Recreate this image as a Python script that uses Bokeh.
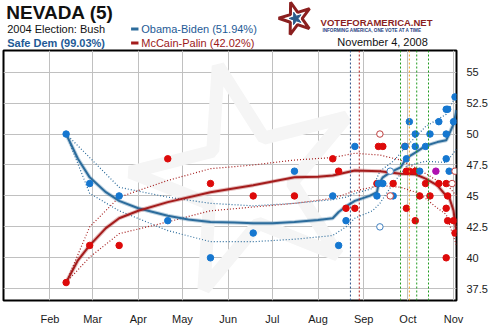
import pandas as pd
from bokeh.plotting import figure
from bokeh.models import Range1d, FixedTicker, Span, Label, DatetimeTickFormatter
from bokeh.layouts import column
from bokeh.embed import file_html
from bokeh.resources import INLINE

FONT = "Liberation Sans"

# ---------------- data ----------------
month_ticks = ["2008-02-01", "2008-03-01", "2008-04-01", "2008-05-01", "2008-06-01",
               "2008-07-01", "2008-08-01", "2008-09-01", "2008-10-01", "2008-11-01"]
month_labels = ["Feb", "Mar", "Apr", "May", "Jun", "Jul", "Aug", "Sep", "Oct", "Nov"]
y_ticks = [37.5, 40, 42.5, 45, 47.5, 50, 52.5, 55]
y_tick_labels = ["37.5", "40", "42.5", "45", "47.5", "50", "52.5", "55"]

obama_poll_dates = ["2008-02-12", "2008-02-28", "2008-03-19", "2008-04-21", "2008-05-20",
                    "2008-06-18", "2008-07-16", "2008-08-11", "2008-08-15", "2008-08-20",
                    "2008-08-26", "2008-09-10", "2008-09-11", "2008-09-14", "2008-09-21",
                    "2008-09-29", "2008-09-30", "2008-10-02", "2008-10-06", "2008-10-06",
                    "2008-10-09", "2008-10-13", "2008-10-16", "2008-10-22", "2008-10-27",
                    "2008-10-28", "2008-10-27", "2008-10-27", "2008-10-29", "2008-11-01",
                    "2008-11-02"]
obama_poll_vals = [50, 46, 45, 43, 40, 42, 47, 45, 41, 43, 49, 45, 46, 46, 45, 49, 48, 51,
                   50, 49, 47, 49, 50, 51, 52, 52, 50, 48, 47, 51, 53]

mccain_poll_dates = ["2008-02-12", "2008-02-28", "2008-03-19", "2008-04-21", "2008-05-20",
                     "2008-06-18", "2008-07-16", "2008-08-11", "2008-08-15", "2008-08-20",
                     "2008-08-26", "2008-09-10", "2008-09-11", "2008-09-14", "2008-09-21",
                     "2008-09-29", "2008-09-30", "2008-09-30", "2008-10-02", "2008-10-06",
                     "2008-10-06", "2008-10-09", "2008-10-13", "2008-10-16", "2008-10-22",
                     "2008-10-27", "2008-10-27", "2008-10-27", "2008-10-28", "2008-10-28",
                     "2008-11-01", "2008-11-02"]
mccain_poll_vals = [38, 41, 41, 48, 46, 45, 45, 48, 47, 44, 44, 46, 49, 49, 46, 49, 47, 44,
                    47, 47, 43, 45, 46, 45, 46, 46, 44, 40, 45, 43, 43, 42]

tie_poll_dates = ["2008-10-20"]
tie_poll_vals = [47]

obama_open_dates = ["2008-09-12", "2008-09-19"]
obama_open_vals = [42.5, 47]
mccain_open_dates = ["2008-09-12", "2008-09-19", "2008-10-31", "2008-11-02"]
mccain_open_vals = [50, 45, 46, 47]

obama_trend_dates = ["2008-02-12", "2008-02-20", "2008-02-28", "2008-03-10", "2008-03-19",
                     "2008-04-01", "2008-04-21", "2008-05-05", "2008-05-20", "2008-06-05",
                     "2008-06-18", "2008-07-01", "2008-07-16", "2008-08-01", "2008-08-11",
                     "2008-08-15", "2008-08-20", "2008-08-26", "2008-09-05", "2008-09-10",
                     "2008-09-11", "2008-09-14", "2008-09-19", "2008-09-26", "2008-09-30",
                     "2008-10-06", "2008-10-13", "2008-10-21", "2008-10-27", "2008-10-29",
                     "2008-11-01", "2008-11-03"]
obama_trend_vals = [50.0, 48.0, 46.5, 45.3, 44.6, 44.0, 43.4, 43.1, 42.9, 42.85, 42.8,
                    42.8, 42.9, 43.05, 43.2, 43.7, 44.15, 44.6, 45.0, 45.3, 45.9, 46.5,
                    46.9, 47.3, 48.05, 48.5, 49.05, 49.35, 49.5, 50.0, 50.8, 51.94]

mccain_trend_dates = ["2008-02-12", "2008-02-20", "2008-02-28", "2008-03-10", "2008-03-19",
                      "2008-04-01", "2008-04-21", "2008-05-20", "2008-06-18", "2008-07-16",
                      "2008-08-01", "2008-08-11", "2008-08-20", "2008-08-26", "2008-09-12",
                      "2008-09-26", "2008-10-06", "2008-10-13", "2008-10-21", "2008-10-27",
                      "2008-10-29", "2008-11-01", "2008-11-03"]
mccain_trend_vals = [38.0, 39.8, 41.0, 42.4, 43.2, 43.8, 44.5, 45.3, 45.87, 46.5, 46.55,
                     46.65, 46.9, 47.06, 47.0, 46.8, 46.75, 46.4, 45.85, 45.0, 44.9, 43.8,
                     42.02]

obama_band_dates = ["2008-02-12", "2008-02-28", "2008-03-19", "2008-04-21", "2008-05-20",
                    "2008-06-18", "2008-07-16", "2008-08-11", "2008-08-20", "2008-08-26",
                    "2008-09-07", "2008-09-12", "2008-09-21", "2008-09-30", "2008-10-13",
                    "2008-10-27", "2008-11-03"]
obama_upper_vals = [50.0, 48.1, 45.7, 44.9, 44.4, 44.2, 44.4, 44.7, 44.9, 45.2, 45.6, 47.0,
                    47.8, 49.0, 50.6, 51.6, 53.2]
obama_lower_vals = [50.0, 45.2, 43.8, 42.2, 41.3, 41.3, 41.5, 41.8, 42.5, 43.2, 43.8, 44.4,
                    46.0, 47.4, 47.8, 47.7, 48.8]

mccain_band_dates = ["2008-02-12", "2008-02-28", "2008-03-19", "2008-04-21", "2008-05-20",
                     "2008-06-18", "2008-07-16", "2008-08-11", "2008-08-26", "2008-09-12",
                     "2008-09-26", "2008-10-09", "2008-10-20", "2008-10-27", "2008-11-03"]
mccain_upper_vals = [38.0, 42.5, 44.9, 46.25, 47.2, 47.5, 47.9, 48.1, 48.45, 48.3, 47.9,
                     47.1, 46.3, 46.0, 45.0]
mccain_lower_vals = [38.0, 40.05, 41.95, 42.9, 43.8, 44.1, 44.4, 44.8, 45.4, 45.85, 45.7,
                     45.2, 44.1, 43.5, 41.0]

event_dates = ["2008-08-23", "2008-08-29", "2008-09-26", "2008-10-02", "2008-10-07", "2008-10-15"]
event_colors = ["#2a4f86", "#b01a1a", "#1f9a1f", "#f0a020", "#1f9a1f", "#1f9a1f"]

BLUE_PT = "#1577d0"
RED_PT = "#dd0a0a"
BLUE_LN = "#2c6c9c"
RED_LN = "#a41c1c"


def ms(dates):
    return [float(v) for v in (pd.to_datetime(dates).astype("int64") // 10**6)]


def dt(dates):
    return pd.to_datetime(dates)


# ---------------- header (pixel coordinates, y downward) ----------------
HDR_H = 49
hdr = figure(width=490, height=HDR_H, x_range=Range1d(0, 490), y_range=Range1d(HDR_H, 0),
             toolbar_location=None, output_backend="svg", min_border=0,
             x_axis_location=None, y_axis_location=None)
hdr.grid.visible = False
hdr.outline_line_color = None
hdr.background_fill_color = "white"
hdr.border_fill_color = "white"


def hlabel(x, baseline_y, text, size=11, color="#111111", bold=False, align="left"):
    # rendered text sits ~0.35em lower than the requested alphabetic baseline; compensate
    hdr.add_layout(Label(x=x, y=baseline_y - 0.36 * size, text=text, text_font=FONT,
                         text_font_size=f"{size}px",
                         text_font_style="bold" if bold else "normal", text_color=color,
                         text_align=align, text_baseline="alphabetic"))


hlabel(3, 18.5, "NEVADA (5)", size=19, bold=True)
hlabel(4, 32, "2004 Election: Bush")
hlabel(4, 46, "Safe Dem (99.03%)", bold=True, color="#1e5a96")
hdr.segment(x0=[138, 138], y0=[28.5, 42.5], x1=[146, 146], y1=[28.5, 42.5],
            line_color=[BLUE_LN, RED_LN], line_width=3)
hlabel(149, 32, "Obama-Biden (51.94%)", color="#1e5a96")
hlabel(149, 46, "McCain-Palin (42.02%)", color="#9c1a1a")
hlabel(459, 45, "November 4, 2008", align="right")
hdr.scatter(x=[316], y=[18], marker="star", size=34, fill_color="white",
            line_color="#8b1f1f", line_width=3, angle=0.3)
hdr.scatter(x=[316], y=[18], marker="star", size=13, fill_color="#2a5a8a",
            line_color="#2a5a8a", angle=0.3)
hlabel(343, 25, "VOTEFORAMERICA.NET", size=9.5, bold=True, color="#8b1f1f")
hlabel(345, 31.5, "INFORMING AMERICA, ONE VOTE AT A TIME", size=4.6, bold=True,
       color="#1f3f7f")

# ---------------- main chart ----------------
p = figure(width=490, height=330 - HDR_H, x_axis_type="datetime", y_axis_location="right",
           toolbar_location=None, output_backend="svg",
           x_range=Range1d(pd.Timestamp("2007-12-31 12:00"), pd.Timestamp("2008-11-03 00:00")),
           y_range=Range1d(36.55, 56.75),
           min_border_left=3, min_border_right=29, min_border_top=1, min_border_bottom=30)
p.background_fill_color = "white"
p.border_fill_color = "white"
p.outline_line_color = "black"
p.outline_line_width = 2

xt = ms(month_ticks)
p.xaxis.ticker = FixedTicker(ticks=xt)
p.xaxis.formatter = DatetimeTickFormatter(months="%b", days="%b", years="%b")
p.xaxis.major_label_overrides = {t: l for t, l in zip(xt, month_labels)}
p.yaxis.ticker = FixedTicker(ticks=y_ticks)
p.yaxis.major_label_overrides = {t: l for t, l in zip(y_ticks, y_tick_labels)}
for ax in (p.xaxis, p.yaxis):
    ax.axis_line_color = None
    ax.major_tick_line_color = None
    ax.minor_tick_line_color = None
    ax.major_label_text_font = FONT
    ax.major_label_text_font_size = "11px"
    ax.major_label_text_color = "#1a1a1a"
p.xaxis.major_label_standoff = 6
p.yaxis.major_label_standoff = 4
p.grid.grid_line_color = "#c0c0c0"
p.grid.grid_line_width = 1

# faint watermark star
p.scatter(x=[pd.Timestamp("2008-06-14")], y=[46.3], marker="star", size=235,
          fill_color=None, line_color="#f5f5f5", line_width=13, angle=0.25)

# event lines
for d, c in zip(ms(event_dates), event_colors):
    p.add_layout(Span(location=d, dimension="height", line_color=c, line_width=1,
                      line_dash="2 2"))

# confidence bands
for dts, vals, col in ((obama_band_dates, obama_upper_vals, BLUE_LN),
                       (obama_band_dates, obama_lower_vals, BLUE_LN),
                       (mccain_band_dates, mccain_upper_vals, RED_LN),
                       (mccain_band_dates, mccain_lower_vals, RED_LN)):
    p.line(dt(dts), vals, line_color=col, line_width=1.2, line_dash="1 2")

# trend lines
p.line(dt(obama_trend_dates), obama_trend_vals, line_color=BLUE_LN, line_width=4,
       line_alpha=0.3)
p.line(dt(obama_trend_dates), obama_trend_vals, line_color=BLUE_LN, line_width=2)
p.line(dt(mccain_trend_dates), mccain_trend_vals, line_color=RED_LN, line_width=4,
       line_alpha=0.3)
p.line(dt(mccain_trend_dates), mccain_trend_vals, line_color=RED_LN, line_width=2)

# polls
p.scatter(dt(mccain_poll_dates), mccain_poll_vals, size=6.5, fill_color=RED_PT,
          line_color=RED_PT)
p.scatter(dt(obama_poll_dates), obama_poll_vals, size=6.5, fill_color=BLUE_PT,
          line_color=BLUE_PT)
p.scatter(dt(tie_poll_dates), tie_poll_vals, size=6.5, fill_color="#b010b0",
          line_color="#b010b0")
p.scatter(dt(mccain_open_dates), mccain_open_vals, size=6.5, fill_color="white",
          line_color="#c04040", line_width=1)
p.scatter(dt(obama_open_dates), obama_open_vals, size=6.5, fill_color="white",
          line_color="#4080c0", line_width=1)

layout = column(hdr, p, spacing=0)
open("out.html", "w").write(file_html(layout, INLINE))
